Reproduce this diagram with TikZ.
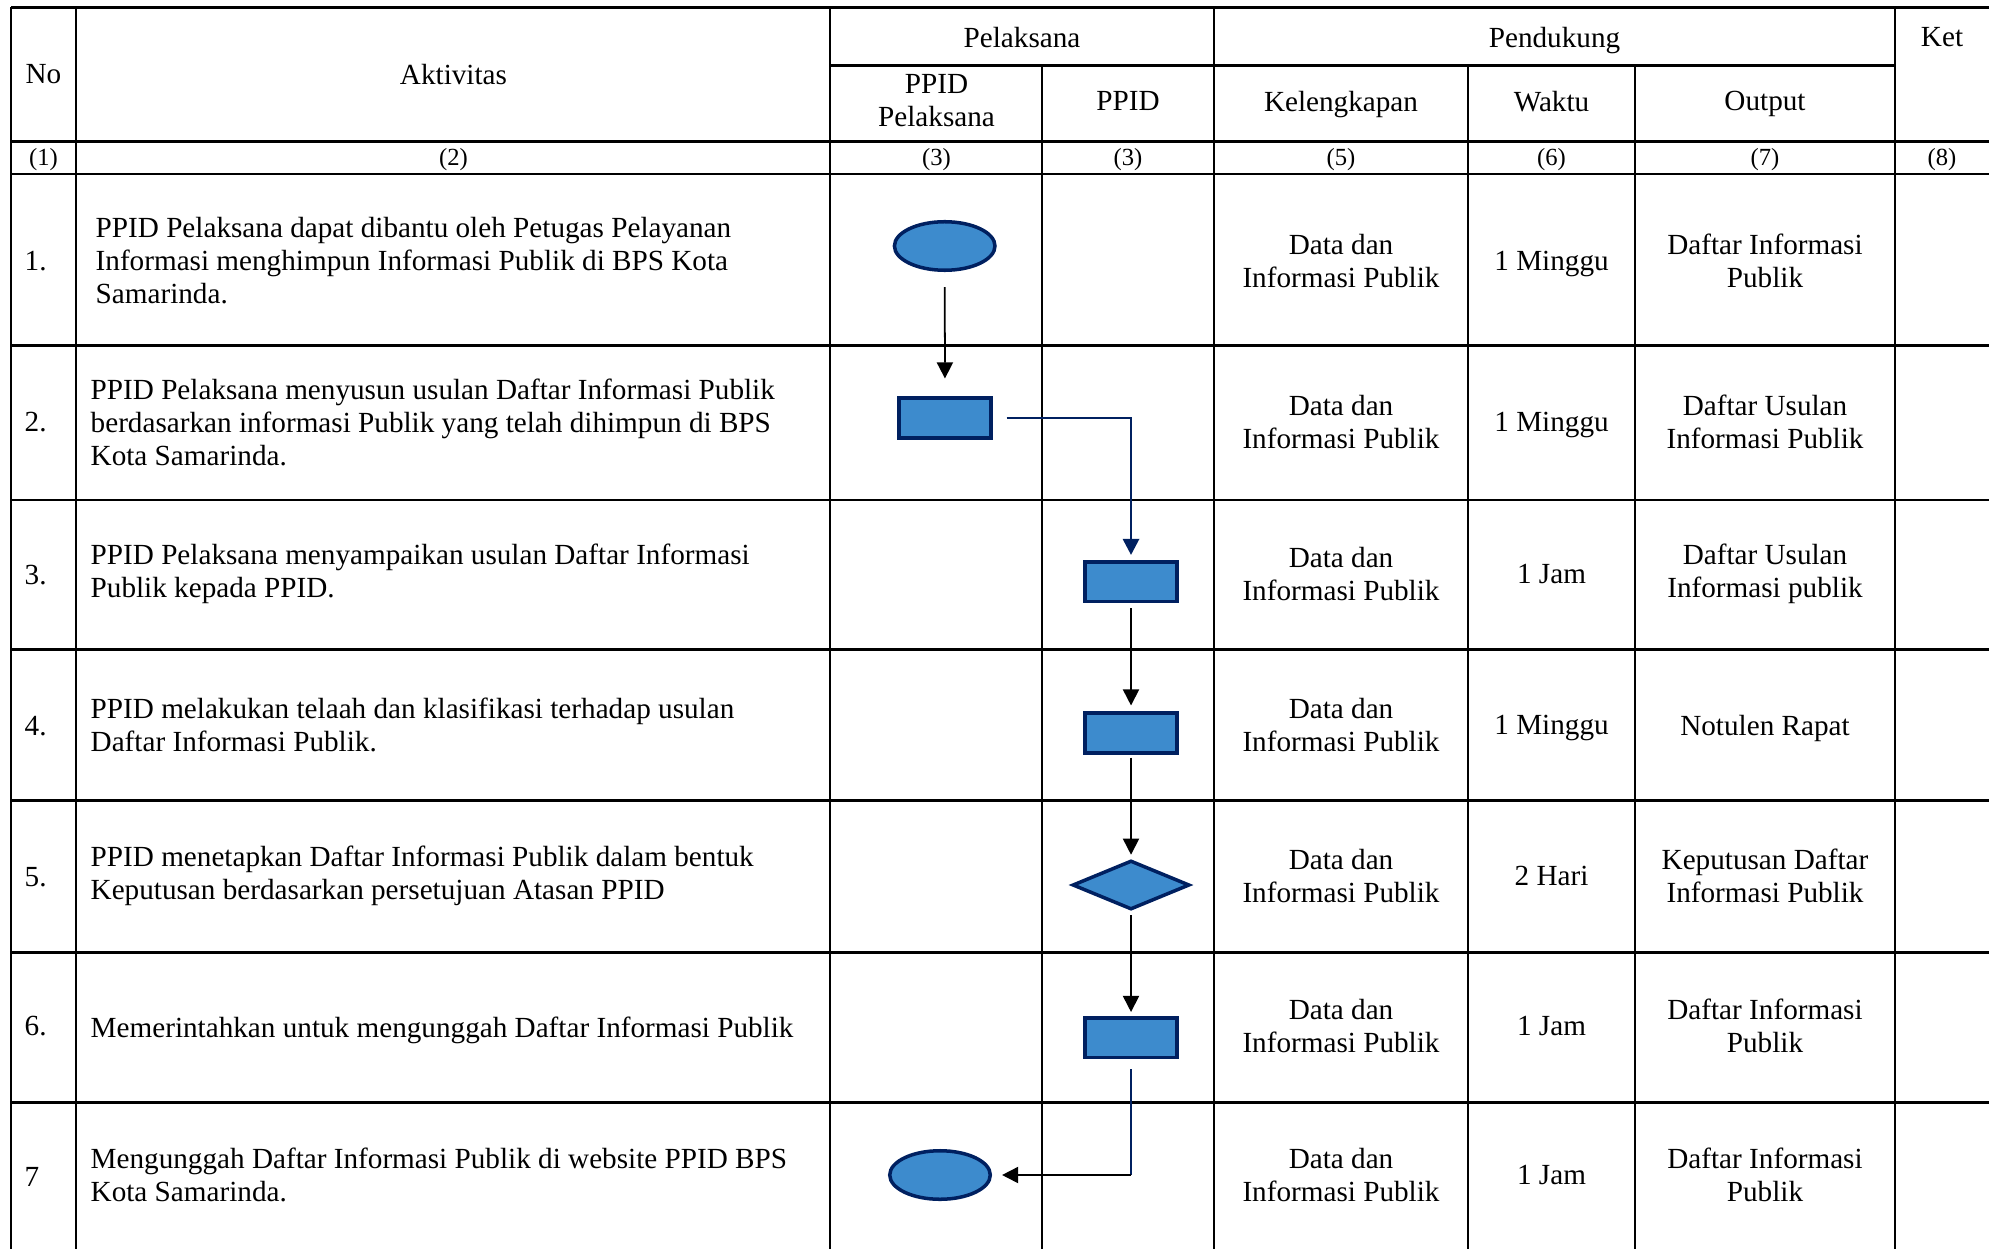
\documentclass[tikz,border=0pt]{standalone}
\usepackage{fontspec}
\setmainfont{Liberation Serif}
\usetikzlibrary{shapes.geometric,arrows.meta}
\definecolor{shapefill}{RGB}{61,139,205}
\definecolor{shapeline}{RGB}{0,32,96}
\begin{document}
\begin{tikzpicture}[x=0.01cm,y=-0.01cm]
\tikzstyle{every node}+=[inner sep=0pt,font=\fontsize{8.3}{9.4}\selectfont]
\tikzstyle{hline}=[black,line width=0.85pt]
\tikzstyle{vline}=[black,line width=0.57pt]
\tikzstyle{one}=[text depth=0pt]
\tikzstyle{num}=[font=\fontsize{7}{8}\selectfont]
\tikzstyle{proc}=[rectangle,draw=shapeline,fill=shapefill,line width=1pt,minimum width=0.915cm,minimum height=0.395cm]
\tikzstyle{term}=[ellipse,draw=shapeline,fill=shapefill,line width=1pt,minimum width=1.005cm,minimum height=0.485cm]
\tikzstyle{dec}=[diamond,draw=shapeline,fill=shapefill,line width=1pt,minimum width=1.17cm,minimum height=0.49cm]
\tikzstyle{arr}=[black,line width=0.5pt,-{Triangle[length=4.6pt,width=4.6pt]}]
\tikzstyle{navyline}=[shapeline,line width=0.8pt]
\useasboundingbox (0,0) rectangle (1989,1249);
\draw [hline] (11,7.3) -- (1989,7.3);
\draw [hline] (830,65.7) -- (1895,65.7);
\draw [hline] (11,141.7) -- (1989,141.7);
\draw [hline] (11,174) -- (1989,174);
\draw [hline] (11,345.7) -- (1989,345.7);
\draw [hline] (11,500) -- (1989,500);
\draw [hline] (11,649) -- (1989,649);
\draw [hline] (11,800.7) -- (1989,800.7);
\draw [hline] (11,952) -- (1989,952);
\draw [hline] (11,1102) -- (1989,1102);
\draw [vline] (11,7.3) -- (11,1249);
\draw [vline] (76,7.3) -- (76,1249);
\draw [vline] (830,7.3) -- (830,1249);
\draw [vline] (1042,65.7) -- (1042,1249);
\draw [vline] (1214,7.3) -- (1214,1249);
\draw [vline] (1468,65.7) -- (1468,1249);
\draw [vline] (1635,65.7) -- (1635,1249);
\draw [vline] (1895,7.3) -- (1895,1249);
\node [one] (hNo) at (43.5,74) {No};
\node [one] (hAkt) at (453.5,74) {Aktivitas};
\node [one] (hPel) at (1022,37) {Pelaksana};
\node [one] (hPen) at (1554.5,37) {Pendukung};
\node [one] (hKet) at (1942,37) {Ket};
\node [align=center] (hPPel) at (936.5,101) {PPID\\Pelaksana};
\node [one] (hPPID) at (1128,101) {PPID};
\node [one] (hKel) at (1341,101) {Kelengkapan};
\node [one] (hWkt) at (1551.5,101) {Waktu};
\node [one] (hOut) at (1765,101) {Output};
\node [num] (c1) at (43.5,160) {(1)};
\node [num] (c2) at (453.5,160) {(2)};
\node [num] (c3) at (936.5,160) {(3)};
\node [num] (c4) at (1128,160) {(3)};
\node [num] (c5) at (1341,160) {(5)};
\node [num] (c6) at (1551.5,160) {(6)};
\node [num] (c7) at (1765,160) {(7)};
\node [num] (c8) at (1942,160) {(8)};
\node [anchor=west,one] (n1) at (24,261) {1.};
\node [anchor=west,one] (n2) at (24,422) {2.};
\node [anchor=west,one] (n3) at (24,575) {3.};
\node [anchor=west,one] (n4) at (24,726) {4.};
\node [anchor=west,one] (n5) at (24,877) {5.};
\node [anchor=west,one] (n6) at (24,1026) {6.};
\node [anchor=west,one] (n7) at (24,1177) {7};
\node [anchor=west,align=left] (a1) at (95,261) {PPID Pelaksana dapat dibantu oleh Petugas Pelayanan\\Informasi menghimpun Informasi Publik di BPS Kota\\Samarinda.};
\node [anchor=west,align=left] (a2) at (90,422) {PPID Pelaksana menyusun usulan Daftar Informasi Publik\\berdasarkan informasi Publik yang telah dihimpun di BPS\\Kota Samarinda.};
\node [anchor=west,align=left] (a3) at (90,574) {PPID Pelaksana menyampaikan usulan Daftar Informasi\\Publik kepada PPID.};
\node [anchor=west,align=left] (a4) at (90,725) {PPID melakukan telaah dan klasifikasi terhadap usulan\\Daftar Informasi Publik.};
\node [anchor=west,align=left] (a5) at (90,876) {PPID menetapkan Daftar Informasi Publik dalam bentuk\\Keputusan berdasarkan persetujuan Atasan PPID};
\node [anchor=west,one] (a6) at (90,1027) {Memerintahkan untuk mengunggah Daftar Informasi Publik};
\node [anchor=west,align=left] (a7) at (90,1175) {Mengunggah Daftar Informasi Publik di website PPID BPS\\Kota Samarinda.};
\node [align=center] (k1) at (1341,261) {Data dan\\Informasi Publik};
\node [align=center] (k2) at (1341,422) {Data dan\\Informasi Publik};
\node [align=center] (k3) at (1341,574) {Data dan\\Informasi Publik};
\node [align=center] (k4) at (1341,725) {Data dan\\Informasi Publik};
\node [align=center] (k5) at (1341,876) {Data dan\\Informasi Publik};
\node [align=center] (k6) at (1341,1026) {Data dan\\Informasi Publik};
\node [align=center] (k7) at (1341,1175) {Data dan\\Informasi Publik};
\node [one] (w1) at (1551.5,261) {1 Minggu};
\node [one] (w2) at (1551.5,422) {1 Minggu};
\node [one] (w3) at (1551.5,574) {1 Jam};
\node [one] (w4) at (1551.5,725) {1 Minggu};
\node [one] (w5) at (1551.5,876) {2 Hari};
\node [one] (w6) at (1551.5,1026) {1 Jam};
\node [one] (w7) at (1551.5,1175) {1 Jam};
\node [align=center] (o1) at (1765,261) {Daftar Informasi\\Publik};
\node [align=center] (o2) at (1765,422) {Daftar Usulan\\Informasi Publik};
\node [align=center] (o3) at (1765,574) {Daftar Usulan\\Informasi publik};
\node [one] (o4) at (1765,725) {Notulen Rapat};
\node [align=center] (o5) at (1765,876) {Keputusan Daftar\\Informasi Publik};
\node [align=center] (o6) at (1765,1026) {Daftar Informasi\\Publik};
\node [align=center] (o7) at (1765,1175) {Daftar Informasi\\Publik};
\node [term] (e1) at (944.7,246) {};
\node [proc] (r2) at (945,418) {};
\node [proc] (r3) at (1131,581.5) {};
\node [proc] (r4) at (1131,733) {};
\node [dec] (d5) at (1131,885) {};
\node [proc] (r6) at (1131,1037.5) {};
\node [term] (e7) at (940,1175) {};
\draw [arr,shorten <=0.15cm,shorten >=0.18cm] (e1) -- (r2);
\draw [navyline,-{Triangle[length=4.6pt,width=4.6pt]},shorten <=0.14cm,shorten >=0.05cm] (r2.east) -| (r3.north);
\draw [arr,shorten <=0.05cm,shorten >=0.06cm] (r3) -- (r4);
\draw [arr,shorten <=0.03cm,shorten >=0.04cm] (r4) -- (d5);
\draw [arr,shorten <=0.04cm,shorten >=0.04cm] (d5) -- (r6);
\coordinate (t7) at (r6.south |- e7.east);
\draw [navyline,shorten <=0.1cm] (r6.south) -- (t7);
\draw [arr,shorten >=0.1cm] (t7) -- (e7.east);
\end{tikzpicture}
\end{document}
